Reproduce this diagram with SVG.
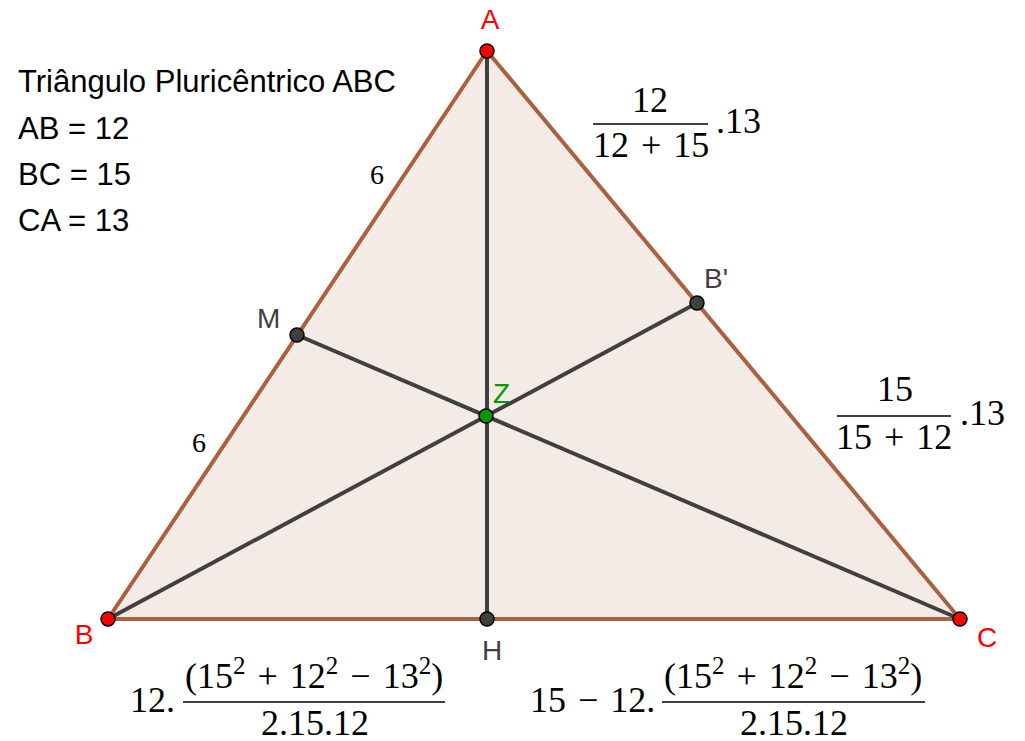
<svg xmlns="http://www.w3.org/2000/svg" width="1025" height="741" viewBox="0 0 1025 741">
<style>
.tri{fill:#f4eae6;stroke:#a8623f;stroke-width:4;stroke-linejoin:round}
.seg{stroke:#404040;stroke-width:4;stroke-linecap:round}
.pr{fill:#ff0000;stroke:#000;stroke-width:1.5}
.pg{fill:#404040;stroke:#000;stroke-width:1.5}
.pz{fill:#009900;stroke:#000;stroke-width:1.5}
.lab{font-family:"Liberation Sans",Arial,sans-serif;font-size:28px}
.red{fill:#ff0000}
.gray{fill:#404040}
.green{fill:#009900}
.info{font-family:"Liberation Sans",Arial,sans-serif;font-size:31px;fill:#000}
.m{font-family:"Liberation Serif","Times New Roman",serif;font-size:36px;fill:#000}
.s6{font-family:"Liberation Serif","Times New Roman",serif;font-size:28px;fill:#000}
.bar{stroke:#000;stroke-width:1.6}
</style>
<g id="triangle">
<polygon class="tri" points="487,51 108,619 960,619"/>
</g>
<g id="connectors">
<line class="seg" x1="487" y1="51" x2="487" y2="619"/>
<line class="seg" x1="108" y1="619" x2="697" y2="303"/>
<line class="seg" x1="960" y1="619" x2="297" y2="335"/>
</g>
<g id="node-A"><circle class="pr" cx="487" cy="51" r="7"/><text class="lab red" x="490" y="29" text-anchor="middle">A</text></g>
<g id="node-B"><circle class="pr" cx="108" cy="619" r="7"/><text class="lab red" x="84" y="644" text-anchor="middle">B</text></g>
<g id="node-C"><circle class="pr" cx="960" cy="619" r="7"/><text class="lab red" x="977" y="647">C</text></g>
<g id="node-M"><circle class="pg" cx="297" cy="335" r="7"/><text class="lab gray" x="257" y="328">M</text></g>
<g id="node-B1"><circle class="pg" cx="697" cy="303" r="7"/><text class="lab gray" x="704" y="288">B'</text></g>
<g id="node-H"><circle class="pg" cx="487" cy="619" r="7"/><text class="lab gray" x="492" y="660" text-anchor="middle">H</text></g>
<g id="node-Z"><circle class="pz" cx="486" cy="416" r="7"/><text class="lab green" x="493" y="403">Z</text></g>
<g id="info">
<text class="info" x="18" y="92">Triângulo Pluricêntrico ABC</text>
<text class="info" x="18" y="139">AB = 12</text>
<text class="info" x="18" y="185">BC = 15</text>
<text class="info" x="18" y="231">CA = 13</text>
</g>
<g id="side-labels">
<text class="s6" x="377" y="184" text-anchor="middle">6</text>
<text class="s6" x="199" y="452" text-anchor="middle">6</text>
</g>
<g id="formula-top">
<text class="m" x="650" y="112" text-anchor="middle">12</text>
<line class="bar" x1="593" y1="124" x2="708" y2="124"/>
<text class="m" x="593" y="157">12<tspan dx="12">+</tspan><tspan dx="12">15</tspan></text>
<text class="m" x="716" y="133">.13</text>
</g>
<g id="formula-right">
<text class="m" x="895" y="401" text-anchor="middle">15</text>
<line class="bar" x1="837" y1="416" x2="951" y2="416"/>
<text class="m" x="836" y="449">15<tspan dx="12">+</tspan><tspan dx="12">12</tspan></text>
<text class="m" x="960" y="425">.13</text>
</g>
<g id="formula-bottom-left">
<text class="m" x="130" y="712">12.</text>
<line class="bar" x1="183" y1="702" x2="445" y2="702"/>
<text class="m" x="185" y="688">(15<tspan font-size="25" dy="-14">2</tspan><tspan dx="12" dy="14">+</tspan><tspan dx="12">12</tspan><tspan font-size="25" dy="-14">2</tspan><tspan dx="12" dy="14">−</tspan><tspan dx="12">13</tspan><tspan font-size="25" dy="-14">2</tspan><tspan dy="14">)</tspan></text>
<text class="m" x="261" y="735" textLength="108" lengthAdjust="spacing">2.15.12</text>
</g>
<g id="formula-bottom-right">
<text class="m" x="530" y="712">15<tspan dx="12">−</tspan><tspan dx="12">12.</tspan></text>
<line class="bar" x1="662" y1="702" x2="925" y2="702"/>
<text class="m" x="664" y="688">(15<tspan font-size="25" dy="-14">2</tspan><tspan dx="12" dy="14">+</tspan><tspan dx="12">12</tspan><tspan font-size="25" dy="-14">2</tspan><tspan dx="12" dy="14">−</tspan><tspan dx="12">13</tspan><tspan font-size="25" dy="-14">2</tspan><tspan dy="14">)</tspan></text>
<text class="m" x="740" y="735" textLength="108" lengthAdjust="spacing">2.15.12</text>
</g>
</svg>
